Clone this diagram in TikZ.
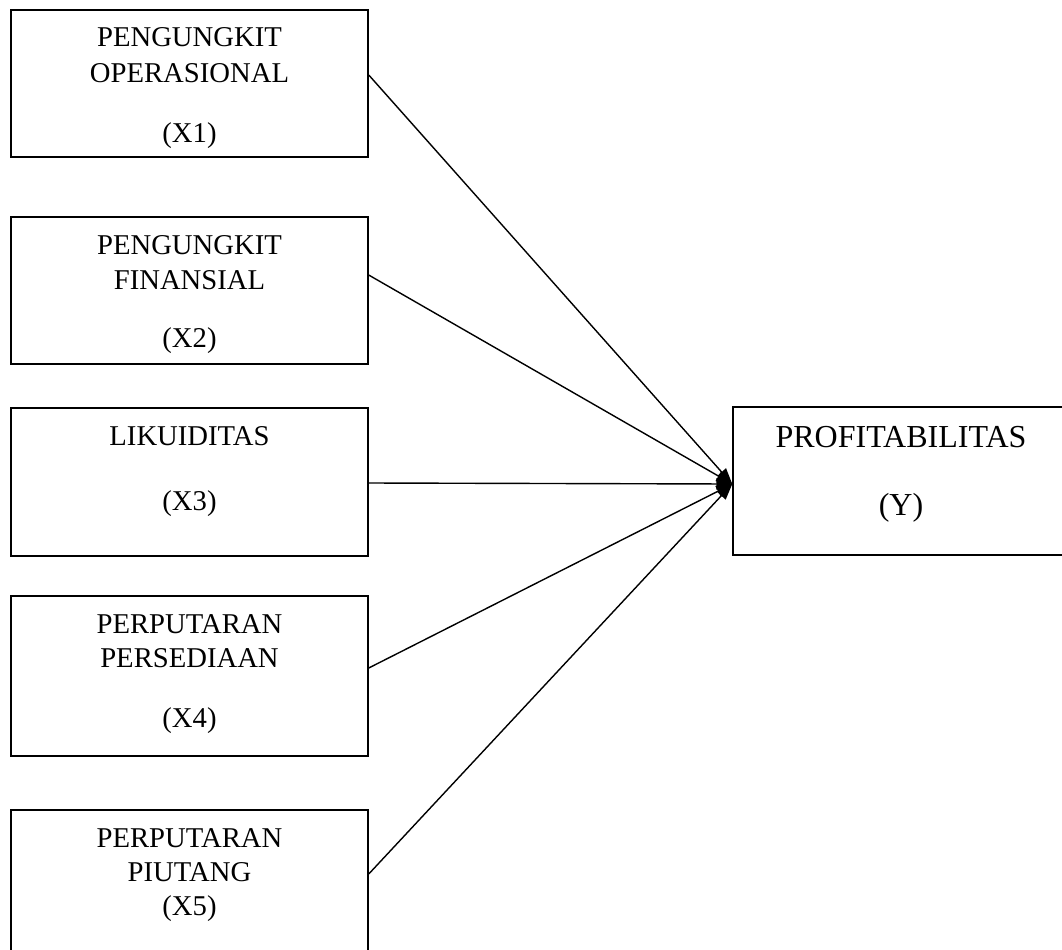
\documentclass[tikz,border=0pt]{standalone}
\usepackage{fontspec}
\setmainfont{Liberation Serif}
\usetikzlibrary{arrows.meta}
\begin{document}
\begin{tikzpicture}[x=0.75pt,y=-0.75pt,
  box/.style={draw,line width=1.1pt,rectangle,inner sep=0pt,minimum width=267.75pt},
  lbl/.style={anchor=base,inner sep=0pt,font=\fontsize{21.5}{24}\selectfont},
  rlbl/.style={anchor=base,inner sep=0pt,font=\fontsize{24}{28}\selectfont},
  conn/.style={line width=1.05pt,-{Triangle[length=12pt,width=8.5pt]}}]
\useasboundingbox (0,0) rectangle (1062,949);
\clip (0,0) rectangle (1062,949);
% boxes
\node[box,minimum height=110.25pt] (b1) at (189.5,83.5) {};
\node[box,minimum height=110.25pt] (b2) at (189.5,290.5) {};
\node[box,minimum height=111pt] (b3) at (189.5,482) {};
\node[box,minimum height=120pt] (b4) at (189.5,676) {};
\node[box,minimum height=112.5pt] (b5) at (189.5,885) {};
\node[box,minimum width=252.75pt,minimum height=111pt] (y) at (901.5,481) {};
% labels
\node[lbl] (t1a) at (189.5,47) {PENGUNGKIT};
\node[lbl] (t1b) at (189.5,82) {OPERASIONAL};
\node[lbl] (t1c) at (189.5,142) {(X1)};
\node[lbl] (t2a) at (189.5,254) {PENGUNGKIT};
\node[lbl] (t2b) at (189.5,289) {FINANSIAL};
\node[lbl] (t2c) at (189.5,347) {(X2)};
\node[lbl] (t3a) at (189.5,445) {LIKUIDITAS};
\node[lbl] (t3c) at (189.5,510) {(X3)};
\node[lbl] (t4a) at (189.5,633) {PERPUTARAN};
\node[lbl] (t4b) at (189.5,667) {PERSEDIAAN};
\node[lbl] (t4c) at (189.5,727) {(X4)};
\node[lbl] (t5a) at (189.5,847) {PERPUTARAN};
\node[lbl] (t5b) at (189.5,881) {PIUTANG};
\node[lbl] (t5c) at (189.5,915) {(X5)};
\node[rlbl] (tya) at (901,447) {PROFITABILITAS};
\node[rlbl] (tyb) at (901,515) {(Y)};
% connectors
\coordinate (tip) at ([yshift=-2.25pt]y.west);
\draw[conn] ([yshift=6.4pt]b1.east) -- (tip);
\draw[conn] ([yshift=11.6pt]b2.east) -- (tip);
\draw[conn] ([yshift=-0.75pt]b3.east) -- (tip);
\draw[conn] ([yshift=6pt]b4.east) -- (tip);
\draw[conn] ([yshift=8.25pt]b5.east) -- (tip);
\end{tikzpicture}
\end{document}
